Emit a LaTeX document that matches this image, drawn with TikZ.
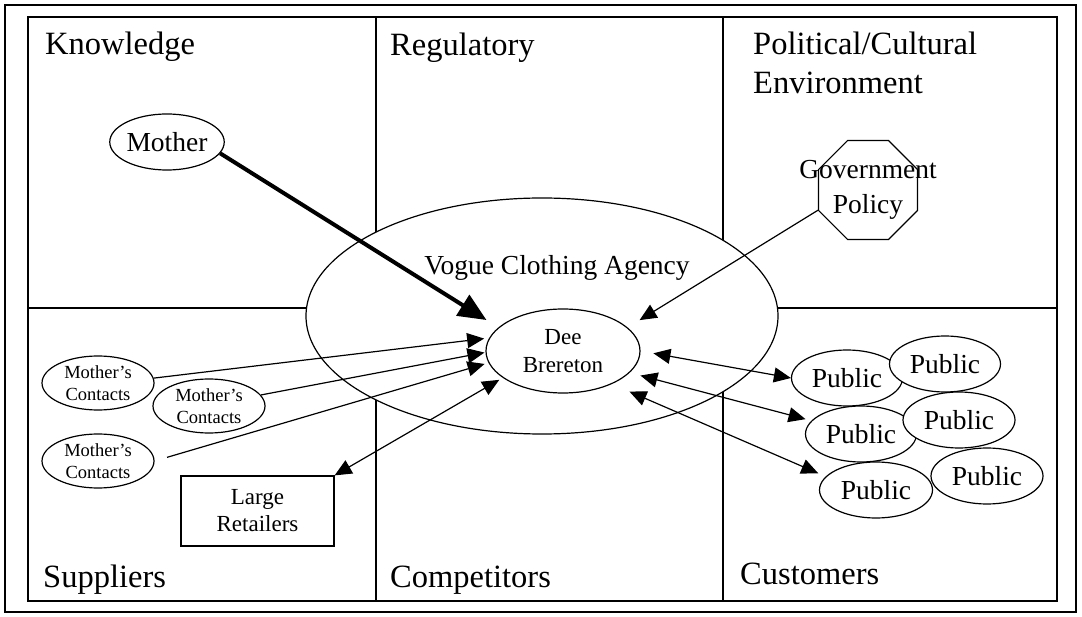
\documentclass[tikz,border=0pt]{standalone}
\usepackage{fontspec}
\setmainfont{Liberation Serif}
\usetikzlibrary{arrows.meta, positioning, calc, shapes.geometric}

\begin{document}
\begin{tikzpicture}[
x=1pt, y=-1pt,
>={Triangle[length=17pt, width=15pt]},
grid/.style={line width=1.2pt},
area/.style={
anchor=base west,
inner sep=0pt,
align=left,
font=\fontsize{32.5}{39}\selectfont
},
oval/.style={
draw,
ellipse,
fill=white,
line width=1.2pt,
inner sep=0pt,
align=center,
font=\fontsize{27.5}{33}\selectfont
},
public/.style={oval, minimum width=111pt, minimum height=56pt},
contact/.style={oval, minimum width=112pt, minimum height=54pt, font=\fontsize{18.5}{22}\selectfont},
flow/.style={->, line width=1.2pt},
twoway/.style={<->, line width=1.2pt}
]

\useasboundingbox (0,0) rectangle (1082,617);

% Frame and the six areas
\draw[line width=2.2pt] (5,5) rectangle (1076,612);
\draw[grid] (28,17) rectangle (1057,601);
\draw[grid] (28,308) -- (1057,308);
\draw[grid] (376,17) -- (376,601);
\draw[grid] (723,17) -- (723,601);

\node[area] (know) at (45,55) {Knowledge};
\node[area] (reg) at (390,56) {Regulatory};
\node[area] (polit) at (753,94) {Political/Cultural\\Environment}; % base = last line
\node[area] (supp) at (43,587) {Suppliers};
\node[area] (comp) at (390,587) {Competitors};
\node[area] (cust) at (740,584) {Customers};

% Agency and the person inside it
\node[oval, minimum width=472pt, minimum height=236pt] (agency) at (542,316) {};
\node[anchor=base, inner sep=0pt, font=\fontsize{27.5}{33}\selectfont] (agencylab) at (557,275) {Vogue Clothing Agency};
\node[oval, minimum width=154pt, minimum height=84pt, font=\fontsize{23}{28}\selectfont] (dee) at (563,351) {Dee\\Brereton};

% Knowledge
\node[oval, minimum width=112pt, minimum height=56pt] (mother) at (167,142) {Mother};

% Political
\node[draw, regular polygon, regular polygon sides=8, minimum size=107pt, inner sep=0pt, line width=1.2pt] (gov) at (868,190) {};
\node[align=center, inner sep=0pt, font=\fontsize{27.5}{35}\selectfont] (govlab) at (gov) {Government\\Policy};

% Suppliers
\node[contact] (c1) at (98,383) {Mother’s\\Contacts};
\node[contact] (c2) at (209,406) {Mother’s\\Contacts};
\node[contact] (c3) at (98,461) {Mother’s\\Contacts};
\node[draw, rectangle, line width=1.2pt, minimum width=153pt, minimum height=70pt, align=center, font=\fontsize{23}{27}\selectfont] (retail) at (257.5,511) {Large\\Retailers};

% Customers
\node[public] (pub1a) at (847,378) {Public};
\node[public] (pub2a) at (861,434) {Public};
\node[public, minimum width=113pt] (pub3a) at (876,490) {Public};
\node[public] (pub1b) at (945,364) {Public};
\node[public, minimum width=112pt] (pub2b) at (959,420) {Public};
\node[public, minimum width=112pt] (pub3b) at (987,476) {Public};

% Links into Dee
\draw[flow, line width=4pt, -{Triangle[length=28pt, width=24pt]}, shorten >=14pt] (mother.-12) -- (dee.160);
\draw[flow, shorten >=5pt] (c1.5) -- (dee.170);
\draw[flow, shorten >=1pt] (c2.12) -- (dee.181);
\draw[flow, shorten <=13pt, shorten >=4pt] (c3.east) -- (dee.189);
\draw[twoway, shorten >=4pt] (retail.north east) -- (dee.204);
\draw[flow, shorten >=14pt] (gov.202.5) -- (dee.20);

% Dee <-> public
\draw[twoway, shorten <=13pt] (dee.0) -- (pub1a.west);
\draw[twoway, shorten <=11pt, shorten >=6pt] (dee.-18) -- (pub2a.165);
\draw[twoway, shorten <=19pt, shorten >=8pt] (dee.-34) -- (pub3a.165);

\end{tikzpicture}
\end{document}
